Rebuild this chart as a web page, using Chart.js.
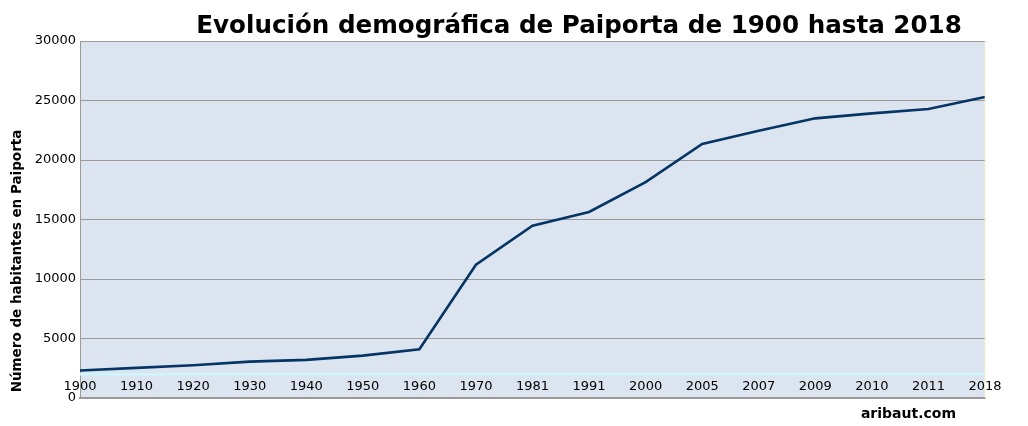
<!DOCTYPE html>
<html>
<head>
<meta charset="utf-8">
<script src="https://cdn.jsdelivr.net/npm/chart.js@4/dist/chart.umd.min.js"></script>
<style>
html,body{margin:0;padding:0;background:#fff;}
#wrap{width:1028px;height:426px;position:relative;}
</style>
</head>
<body>
<div id="wrap"><canvas id="c" width="1028" height="426"></canvas></div>
<script>
const years = ['1900','1910','1920','1930','1940','1950','1960','1970','1981','1991','2000','2005','2007','2009','2010','2011','2018'];
const habitantes = [2310,2530,2750,3060,3200,3560,4100,11200,14480,15630,18140,21350,22450,23500,23920,24280,25290];
const referencia = [2000,2000,2000,2000,2000,2000,2000,2000,2000,2000,2000,2000,2000,2000,2000,2000,2000];
const titleText = 'Evolución demográfica de Paiporta de 1900 hasta 2018';
const yTitleText = 'Número de habitantes en Paiporta';
const creditText = 'aribaut.com';

const decor = {
  id:'decor',
  beforeDraw(chart){
    const {ctx, chartArea:a} = chart;
    ctx.save();
    ctx.fillStyle = '#dce4f0';
    ctx.fillRect(a.left, a.top, a.right-a.left, a.bottom-a.top);
    ctx.restore();
  },
  afterDraw(chart){
    const {ctx, chartArea:a} = chart;
    const xs = chart.scales.x;
    ctx.save();
    ctx.strokeStyle = '#fcfbdc';
    ctx.lineWidth = 1.5;
    ctx.beginPath();
    ctx.moveTo(a.right+0.5, a.top);
    ctx.lineTo(a.right+0.5, a.bottom);
    ctx.stroke();
    // category labels drawn from the x scale
    ctx.fillStyle = '#000';
    ctx.font = '13px "DejaVu Sans"';
    ctx.textAlign = 'center';
    ctx.textBaseline = 'middle';
    years.forEach((y,i)=>{
      ctx.fillText(y, xs.getPixelForTick(i), a.bottom - 11);
    });
    ctx.textBaseline = 'alphabetic';
    ctx.font = 'bold 24.6px "DejaVu Sans"';
    ctx.fillText(titleText, 579, 33);
    ctx.font = 'bold 14px "DejaVu Sans"';
    ctx.textAlign = 'right';
    ctx.fillText(creditText, 956, 418);
    ctx.translate(21, 261);
    ctx.rotate(-Math.PI/2);
    ctx.textAlign = 'center';
    ctx.font = 'bold 13.5px "DejaVu Sans"';
    ctx.fillText(yTitleText, 0, 0);
    ctx.restore();
  }
};

new Chart(document.getElementById('c'), {
  type:'line',
  data:{
    labels: years,
    datasets:[
      {label:'ref', data: referencia, borderColor:'#cdf6fb', borderWidth:2.5, pointRadius:0, tension:0},
      {label:'Habitantes', data: habitantes, borderColor:'#043565', borderWidth:2.6, pointRadius:0, tension:0}
    ]
  },
  plugins:[decor],
  options:{
    responsive:false,
    animation:false,
    devicePixelRatio:1,
    layout:{padding:{left:0, top:41, right:43, bottom:28}},
    plugins:{legend:{display:false}, title:{display:false}, tooltip:{enabled:false}},
    scales:{
      x:{
        offset:false,
        grid:{display:false, drawTicks:false},
        border:{display:true, color:'#9a9a9a', width:2},
        ticks:{display:false, autoSkip:false},
        afterFit(s){ s.height = 0; }
      },
      y:{
        min:0, max:30000,
        grid:{color:'#9a9a9a', lineWidth:1, drawTicks:false},
        border:{display:true, color:'#9a9a9a', width:1},
        ticks:{stepSize:5000, padding:4, color:'#000', font:{family:'DejaVu Sans', size:13}, callback:(v)=>String(v)},
        afterFit(s){ s.width = 80; }
      }
    }
  }
});
</script>
</body>
</html>
